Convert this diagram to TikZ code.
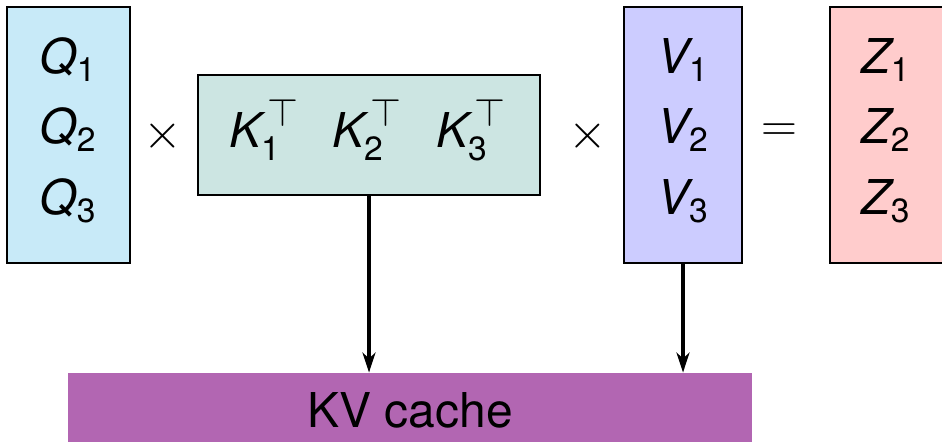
\documentclass[tikz,border=0pt]{standalone}
\usepackage{xcolor}
\definecolor{qblue}{RGB}{200,234,248}
\definecolor{kteal}{RGB}{204,229,226}
\definecolor{vlavender}{RGB}{204,204,255}
\definecolor{zpink}{RGB}{255,204,204}
\definecolor{kvpurple}{RGB}{178,102,178}
\usepackage{amsmath}
\usepackage{graphicx}
\usepackage{fontspec}
\setmainfont{TeX Gyre Heros}
\usepackage{tikz}
\usetikzlibrary{arrows.meta}

\newcommand{\entry}[2]{$\textit{#1}_{\text{#2}}$}
\newcommand{\kentry}[1]{$\textit{K}_{\text{#1}}^{\kern3pt\scalebox{1.15}{$\scriptstyle\top$}}$}

\begin{document}
\begin{tikzpicture}[x=0.5pt, y=-0.5pt,
  matbox/.style={draw, line width=0.9pt, inner sep=0pt},
  every node/.style={font=\fontsize{24}{28}\selectfont},
  arr/.style={-{Stealth[length=10pt, width=6.5pt, inset=3pt]}, line width=1.7pt}]
  \useasboundingbox (0,0) rectangle (942,442);
  \clip (0,0) rectangle (942,442);

  % Matrices
  \node[matbox, fill=qblue, minimum width=61.5pt, minimum height=128pt] (qbox) at (68.5,135) {};
  \node[matbox, fill=kteal, minimum width=171pt, minimum height=60pt] (kbox) at (369,135) {};
  \node[matbox, fill=vlavender, minimum width=59pt, minimum height=128pt] (vbox) at (683,135) {};
  \node[matbox, fill=zpink, minimum width=59pt, minimum height=128pt] (zbox) at (889,135) {};

  % Entries
  \foreach \i/\yb in {1/74, 2/144, 3/215} {
    \node[anchor=base] (q\i) at (68,\yb) {\entry{Q}{\i}};
    \node[anchor=base] (v\i) at (683,\yb) {\entry{V}{\i}};
    \node[anchor=base] (z\i) at (886,\yb) {\entry{Z}{\i}};
  }
  \foreach \i/\xc in {1/264, 2/367, 3/471}
    \node[anchor=base] (k\i) at (\xc,148) {\kentry{\i}};

  % Operators
  \node (times1) at (163,136) {$\times$};
  \node (times2) at (588,136) {$\times$};
  \node (equals) at (779,133) {$=$};

  % Cache
  \node[fill=kvpurple, minimum width=342pt, minimum height=37pt, inner sep=0pt] (kv) at (410,410) {KV cache};

  \draw[arr] (kbox.south) -- (kv.north -| kbox.south);
  \draw[arr] (vbox.south) -- (kv.north -| vbox.south);
\end{tikzpicture}
\end{document}
